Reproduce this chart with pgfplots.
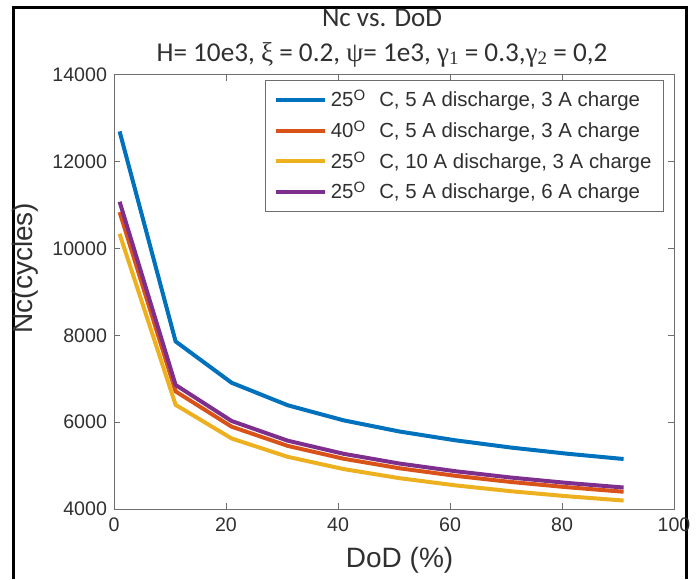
\documentclass[border=0pt]{standalone}
\usepackage{pgfplots}
\pgfplotsset{compat=1.18}
\usepackage{fontspec}
\setmainfont{Liberation Sans}
\newfontfamily\carl{Carlito}
\newfontfamily\tnr{Liberation Serif}
\definecolor{mb}{HTML}{0072BD}
\definecolor{mr}{HTML}{D95319}
\definecolor{my}{HTML}{EDB120}
\definecolor{mp}{HTML}{7E2F8E}
\definecolor{axg}{HTML}{6E6E6E}
\definecolor{txg}{HTML}{303030}
\newcommand{\degc}[1]{#1\raisebox{0.55ex}{\fontsize{7.5pt}{8pt}\selectfont O}\hspace{7pt}C}
\begin{document}
\begin{tikzpicture}
\useasboundingbox (0,0) rectangle (348pt,289.5pt);
\draw[line width=1.5pt,black] (6.5pt,0) -- (6.5pt,285.5pt) -- (343pt,285.5pt) -- (343pt,0);
\begin{axis}[
  scale only axis, width=280pt, height=217pt,
  at={(57pt,35pt)}, anchor=south west,
  xmin=0, xmax=100, ymin=4000, ymax=14000,
  xtick={0,20,40,60,80,100}, ytick={4000,6000,8000,10000,12000,14000},
  scaled ticks=false,
  /pgf/number format/1000 sep={},
  /pgf/number format/assume math mode=true,
  tick align=inside, major tick length=3pt,
  axis line style={axg, line width=0.5pt},
  every tick/.style={axg, line width=0.5pt},
  tick label style={font=\fontsize{9.8pt}{11pt}\selectfont, text=txg},
  xticklabel style={yshift=-1pt},
  yticklabel style={xshift=0pt},
  xlabel={DoD (\%)}, ylabel={Nc(cycles)},
  label style={font=\fontsize{14pt}{16pt}\selectfont, text=txg},
  xlabel style={at={(axis description cs:0.51,-0.1175)}, anchor=center},
  ylabel style={at={(axis description cs:-0.159,0.555)}, anchor=center},
  legend style={at={(axis description cs:0.982,0.9885)}, anchor=north east,
    draw=axg, line width=0.5pt, font=\fontsize{10.2pt}{12pt}\selectfont, text=txg,
    row sep=1.6pt, inner xsep=4pt, inner ysep=3pt},
  legend cell align=left,
  legend image code/.code={\draw[#1, line width=2pt] (0pt,0pt) -- (24.5pt,0pt);},
  every axis plot/.append style={line width=2pt},
]
\addplot[mb] coordinates {(1,12700) (11,7861) (21,6909) (31,6391) (41,6043) (51,5785) (61,5582) (71,5414) (81,5273) (91,5152)};
\addlegendentry{\degc{25}, 5 A discharge, 3 A charge}
\addplot[mr] coordinates {(1,10840) (11,6710) (21,5897) (31,5455) (41,5158) (51,4938) (61,4764) (71,4621) (81,4501) (91,4398)};
\addlegendentry{\degc{40}, 5 A discharge, 3 A charge}
\addplot[my] coordinates {(1,10340) (11,6400) (21,5625) (31,5203) (41,4920) (51,4710) (61,4544) (71,4408) (81,4293) (91,4195)};
\addlegendentry{\degc{25}, 10 A discharge, 3 A charge}
\addplot[mp] coordinates {(1,11080) (11,6858) (21,6028) (31,5575) (41,5272) (51,5047) (61,4870) (71,4723) (81,4600) (91,4495)};
\addlegendentry{\degc{25}, 5 A discharge, 6 A charge}
\end{axis}
\node[anchor=base, text=txg] at (191pt,276pt) {\carl\fontsize{13.5pt}{15pt}\selectfont Nc vs. DoD};
\node[anchor=base, text=txg] at (191pt,258.5pt) {\carl\fontsize{13.6pt}{15pt}\selectfont H= 10e3, {\tnr ξ} = 0.2, {\tnr ψ}= 1e3, {\tnr γ\raisebox{-1.2pt}{\fontsize{9.5pt}{10pt}\selectfont 1}} = 0.3,{\tnr γ\raisebox{-1.2pt}{\fontsize{9.5pt}{10pt}\selectfont 2}} = 0,2};
\end{tikzpicture}
\end{document}
